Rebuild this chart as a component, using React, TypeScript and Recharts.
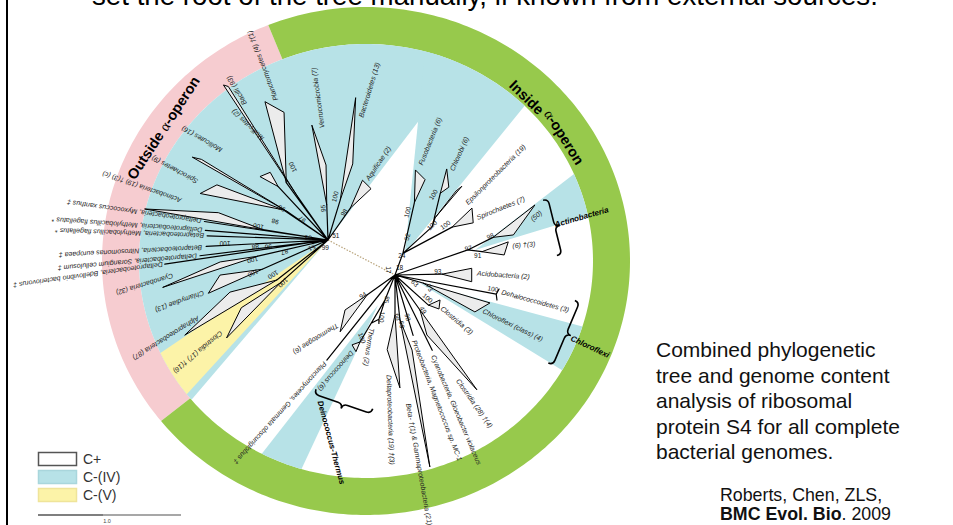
import { ScatterChart, Scatter, XAxis, YAxis } from "recharts";

const W = 953;
const H = 525;
// ring centre in page pixels; the axes are laid out so one data unit is one pixel
const CX = 366;
const CY = 261;
const FONT = '"Liberation Sans", Arial, sans-serif';

type Pol = [number, number]; // direction (deg, counter-clockwise from east), distance
type HubKey = "L" | "R";
type XY = { x: number; y: number };

interface Clade {
  name: string;
  node: Pol;
  tips?: [Pol, Pol];
  from?: Pol;
  cherry?: boolean;
  label: Pol;
  rot: number;
}

const COLORS = {
  iv: "#b7e2e7",
  v: "#fcf3a8",
  outside: "#f6ccd0",
  inside: "#97c94c",
  clade: "#ececec",
  root: "#b9a47c",
};

// the two ends of the root branch, relative to the ring centre
const hubs: Record<HubKey, [number, number]> = { L: [-38, 21], R: [29, -14] };

// outer and inner ellipse radii of the operon ring
const RING = { outer: [264, 254] as [number, number], inner: [227, 217] as [number, number] };

const ringSegments = [
  { name: "Outside", from: 112.5, to: 218, fill: COLORS.outside },
  { name: "Inside", from: 218, to: 472.5, fill: COLORS.inside },
];

// ring captions: word, direction on the ring, inward shift, whether the alpha-operon part follows
const ringCaptions: { text: string; at: number; shift: number; alpha: boolean }[] = [
  { text: "Outside ", at: 146.7, shift: 0, alpha: true },
  { text: "Inside", at: 45.5, shift: 11, alpha: false },
  { text: "", at: 32, shift: 9, alpha: true },
];

const wedges: { hub: HubKey; apex: Pol; from: number; to: number; kind: "iv" | "v" }[] = [
  { hub: "L", apex: [0, 0], from: 52.7, to: 229.5, kind: "iv" },
  { hub: "L", apex: [0, 0], from: 214, to: 227.5, kind: "v" },
  { hub: "R", apex: [65.6, 24], from: 50.9, to: 84.3, kind: "iv" },
  { hub: "R", apex: [17.4, 84], from: 17, to: 37.5, kind: "iv" },
  { hub: "R", apex: [-17.7, 26], from: -31.5, to: -15, kind: "iv" },
  { hub: "R", apex: [-119.5, 34.5], from: 232, to: 245, kind: "iv" },
];

const leftClades: Clade[] = [
  { name: "Aquificae (2)", node: [55, 39], tips: [[60, 69], [50, 67]], label: [57, 72], rot: 56 },
  { name: "Bacteroidetes (13)", node: [73, 42], tips: [[79, 145], [72, 80]], label: [75, 127], rot: 73 },
  { name: "Verrucomicrobia (7)", node: [92, 35], tips: [[98, 116], [91.5, 75]], label: [93, 112], rot: 98 },
  { name: "Planctomycetes (4) †(1)", node: [126, 71], tips: [[114.5, 152], [109, 135]], label: [110.5, 149], rot: 111 },
  { name: "Bacilli (93)", node: [125, 52], tips: [[124, 187], [123, 183]], label: [121.5, 159], rot: 121 },
  { name: "Mollicutes (2)", node: [133, 73], tips: [[137, 93], [130.5, 89]], label: [123, 120], rot: 136 },
  { name: "Mollicutes (16)", node: [145, 49], tips: [[148.6, 159], [147.5, 150]], label: [140, 139], rot: 150 },
  { name: "Spirochaetes (9)", node: [146, 54], tips: [[160, 136], [153.6, 124]], label: [156, 143], rot: 152 },
  { name: "Actinobacteria (19) †(3) (c)", node: [171, 66], tips: [[170.4, 186], [166, 113]], label: [165, 152], rot: 161 },
  { name: "Deltaproteobacteria, Myxococcus xanthus ‡", node: [171.5, 125], label: [171.5, 128], rot: 172 },
  { name: "Deltaproteobacteria, Methylobacillus flagellatus *", node: [175.5, 123], label: [175.5, 126], rot: 176 },
  { name: "Betaproteobacteria, Methylobacillus flagellatus *", node: [178, 121], label: [178, 124], rot: 178 },
  { name: "Betaproteobacteria, Nitrosomonas europaea ‡", node: [183, 122], label: [183.5, 126], rot: 183 },
  { name: "Deltaproteobacteria, Sorangium cellulosum ‡", node: [187, 129], label: [187, 132], rot: 185 },
  { name: "Deltaproteobacteria, Bdellovibrio bacteriovorus ‡", node: [188.4, 165], label: [188.4, 167], rot: 188 },
  { name: "Cyanobacteria (32)", node: [193, 72], tips: [[196, 172], [191.5, 110]], label: [193, 159], rot: 197 },
  { name: "Chlamydiae (13)", node: [204, 72], tips: [[204, 131], [198, 113.5]], label: [203, 135], rot: 200 },
  { name: "Alphaproteobacteria (87)", node: [218, 65], tips: [[213.6, 172], [208, 111]], label: [211, 151], rot: 212 },
  { name: "Clostridia (17) †(16)", node: [222, 64], tips: [[224, 141], [218, 110]], label: [221, 141], rot: 220 },
];

// internal nodes hanging off the right-hand hub
const N24: Pol = [70, 23];
const N105: Pol = [52.4, 61];
const N97: Pol = [19, 77];
const N85: Pol = [-111.8, 27];

const internalEdges: { hub: HubKey; from: Pol; to: Pol }[] = [
  { hub: "R", from: [0, 0], to: N24 },
  { hub: "R", from: N24, to: N105 },
  { hub: "R", from: [0, 0], to: N97 },
  { hub: "R", from: [0, 0], to: N85 },
];

const rightClades: Clade[] = [
  { name: "Fusobacteria (6)", from: N24, node: [75, 75], tips: [[79, 107], [72.5, 100]], label: [77, 113], rot: 68 },
  { name: "Chlorobi (6)", from: N105, node: [61, 93.5], tips: [[64, 118], [58.5, 103]], label: [61.5, 119], rot: 66 },
  { name: "Epsilonproteobacteria (19)", from: N105, node: [55, 70], tips: [[53, 111], [54, 104]], label: [45, 101], rot: 45 },
  { name: "Spirochaetes (7)", from: N24, node: [40, 74.5], tips: [[41, 102], [33.7, 94]], label: [35, 100], rot: 22 },
  { name: "(50)", from: N97, node: [21, 105], tips: [[26.6, 156.5], [18.7, 125]], label: [22, 147], rot: 40 },
  { name: "(6) †(3)", from: N97, node: [15, 90], tips: [[16.3, 118], [10.4, 111]], label: [14, 121], rot: 5 },
  { name: "Acidobacteria (2)", node: [1, 47], tips: [[5, 77], [-5, 77]], label: [1.4, 82], rot: -4 },
  { name: "Dehalococcoidetes (3)", node: [-10.7, 103], tips: [[-7.7, 105], [-13.8, 105]], cherry: true, label: [-9, 108], rot: -15 },
  { name: "Chloroflexi (class) (4)", node: [-16, 29], tips: [[-16.4, 99], [-24.8, 88]], label: [-22, 95], rot: -26 },
  { name: "Clostridia (3)", node: [-42, 45], tips: [[-29, 51.5], [-37.7, 55.6]], label: [-35, 57], rot: -40 },
  { name: "Clostridia (28) †(4)", node: [-54.5, 43], tips: [[-54.5, 141], [-62, 68]], label: [-59, 122], rot: -55 },
  { name: "Cyanobacteria, Gloeobacter violaceus", node: [-63.7, 84], label: [-64.6, 89], rot: -67 },
  { name: "Proteobacteria, Magnetococcus sp. MC-1", node: [-73.3, 63], label: [-73.7, 68], rot: -69 },
  { name: "Beta- †(1) & Gammaproteobacteria (21)", node: [-83.7, 45], tips: [[-79.7, 195], [-77.2, 77]], label: [-84, 129], rot: -80 },
  { name: "Deltaproteobacteria (19) †(3)", node: [-90, 40], tips: [[-87.5, 113], [-96, 75]], label: [-93.4, 100], rot: -88 },
  { name: "Thermus (2)", from: N85, node: [-110, 47], tips: [[-115.6, 53], [-108.4, 51]], cherry: true, label: [-113.5, 58], rot: -99 },
  { name: "Deinococcus (6)", from: N85, node: [-117.6, 75.6], tips: [[-121.6, 82], [-117, 86]], label: [-119, 88], rot: 229 },
  { name: "Thermotogae (6)", node: [-144.5, 34], tips: [[-134, 79], [-145, 61]], label: [-138.7, 76], rot: 212 },
  { name: "Planctomycetes, Gemmata obscuriglobus ‡", node: [-128.7, 109], label: [-128.4, 112], rot: 228 },
];

// bootstrap support: [value, direction, distance, text angle]
const leftSupport: [string, number, number, number][] = [
  ["98", 60, 32, 56], ["100", 81, 44, 75], ["95", 99, 32, 95], ["100", 116, 81, 115],
  ["97", 142, 33, 140], ["96", 146, 56, 150], ["98", 161, 56, 165], ["100", 169, 71, 168],
  ["53", 174, 20, 175], ["100", 181.7, 103, 180], ["88", 185.5, 73, 184], ["96", 186.7, 60, 185],
  ["87", 195.6, 45, 195], ["51", 206.6, 18, 205], ["100", 195, 78, 193], ["100", 204, 82, 203],
  ["100", 212.5, 65, 212], ["100", 223.7, 62, 222], ["51", 30, 9, 0], ["99", 250, 8, 0],
];

const rightSupport: [string, number, number, number][] = [
  ["18", 60, 9, 0], ["17", 140, 8, -90], ["24", 71, 21, 0], ["52", 72.5, 40, 75], ["100", 79, 64, 75],
  ["100", 64.6, 89, 60], ["100", 53.5, 62, 45], ["100", 45, 71, 35], ["97", 20.3, 78, 12],
  ["98", 22.3, 103, 25], ["91", 13.5, 85, 0], ["93", 5, 43, 0], ["100", -8, 99, -10],
  ["73", -20, 37, -60], ["63", -22, 21.5, -45], ["100", -35, 40, -40], ["49", -51, 45, -60],
  ["98", -73, 44, -75], ["69", -82, 50, -80], ["68", -86, 42, -82], ["100", -107, 44, -95],
  ["85", -108, 26, -100], ["100", -117.6, 71, -70], ["94", -148, 38, 35],
];

const groupLabels: { text: string; hub: HubKey; at: Pol; rot: number }[] = [
  { text: "Actinobacteria", hub: "R", at: [17.4, 167.6], rot: 16 },
  { text: "Chloroflexi", hub: "R", at: [-19.7, 187], rot: -25 },
  { text: "Deinococcus-Thermus", hub: "R", at: [-120.8, 146.6], rot: -75 },
];

const braces: { hub: HubKey; at: Pol; len: number; rot: number }[] = [
  { hub: "R", at: [16.9, 162], len: 57, rot: 14 },
  { hub: "R", at: [-18.8, 176], len: 68, rot: -23 },
  { hub: "R", at: [-112.2, 134], len: 60, rot: -109 },
];

const legendItems = [
  { label: "C+", fill: "#ffffff", stroke: "#555555" },
  { label: "C-(IV)", fill: COLORS.iv, stroke: "#a9d6dc" },
  { label: "C-(V)", fill: COLORS.v, stroke: "#efe49a" },
];

const summaryLines = [
  "Combined phylogenetic",
  "tree and genome content",
  "analysis of ribosomal",
  "protein S4 for all complete",
  "bacterial genomes.",
];

// ---- geometry helpers ----
const rad = (d: number) => (d * Math.PI) / 180;

const at = (hub: HubKey, p: Pol): XY => {
  const [hx, hy] = hubs[hub];
  return { x: hx + p[1] * Math.cos(rad(p[0])), y: hy + p[1] * Math.sin(rad(p[0])) };
};

const onEllipse = (deg: number, [rx, ry]: [number, number]): XY => {
  const c = Math.cos(rad(deg));
  const s = Math.sin(rad(deg));
  const r = 1 / Math.sqrt((c * c) / (rx * rx) + (s * s) / (ry * ry));
  return { x: r * c, y: r * s };
};

// where a ray from p leaves the ellipse
const rayHit = (p: XY, deg: number, [rx, ry]: [number, number]): XY => {
  const dx = Math.cos(rad(deg));
  const dy = Math.sin(rad(deg));
  const a = (dx * dx) / (rx * rx) + (dy * dy) / (ry * ry);
  const b = 2 * ((p.x * dx) / (rx * rx) + (p.y * dy) / (ry * ry));
  const c = (p.x * p.x) / (rx * rx) + (p.y * p.y) / (ry * ry) - 1;
  const t = (-b + Math.sqrt(b * b - 4 * a * c)) / (2 * a);
  return { x: p.x + t * dx, y: p.y + t * dy };
};

const sweep = (from: number, to: number, step = 1) => {
  const n = Math.max(1, Math.ceil(Math.abs(to - from) / step));
  return Array.from({ length: n + 1 }, (_, i) => from + ((to - from) * i) / n);
};

const ringPolys = ringSegments.map((s) => [
  ...sweep(s.from, s.to).map((a) => onEllipse(a, RING.outer)),
  ...sweep(s.to, s.from).map((a) => onEllipse(a, RING.inner)),
]);

const wedgePolys = wedges.map((w) => {
  const apex = at(w.hub, w.apex);
  return [apex, ...sweep(w.from, w.to).map((a) => rayHit(apex, a, RING.inner))];
});

const midRing = (shift: number): [number, number] => [
  (RING.outer[0] + RING.inner[0]) / 2 - shift,
  (RING.outer[1] + RING.inner[1]) / 2 - shift,
];
// captions run clockwise along the ring, so they are turned to the tangent
const captionPoints = ringCaptions.map((c) => ({
  ...onEllipse(c.at, midRing(c.shift)),
  text: c.text,
  alpha: c.alpha,
  rot: c.at - 90,
}));

const edgePoints: XY[] = [];
const trianglePoints: XY[] = [];
type TextDatum = XY & { text: string; rot: number; kind: "tip" | "support" | "group" };
const textPoints: TextDatum[] = [];

internalEdges.forEach((e) => edgePoints.push(at(e.hub, e.from), at(e.hub, e.to)));

([["L", leftClades], ["R", rightClades]] as [HubKey, Clade[]][]).forEach(([hub, list]) => {
  list.forEach((c) => {
    const node = at(hub, c.node);
    edgePoints.push(at(hub, c.from ?? [0, 0]), node);
    if (c.tips) {
      const [a, b] = c.tips.map((t) => at(hub, t));
      if (c.cherry) edgePoints.push(node, a, node, b);
      else trianglePoints.push(node, a, b);
    }
    textPoints.push({ ...at(hub, c.label), text: c.name, rot: c.rot, kind: "tip" });
  });
});

([["L", leftSupport], ["R", rightSupport]] as [HubKey, [string, number, number, number][]][]).forEach(
  ([hub, list]) =>
    list.forEach(([text, a, r, rot]) =>
      textPoints.push({ ...at(hub, [a, r]), text, rot, kind: "support" })
    )
);

groupLabels.forEach((g) => textPoints.push({ ...at(g.hub, g.at), text: g.text, rot: g.rot, kind: "group" }));

const bracePoints = braces.map((b) => ({ ...at(b.hub, b.at), len: b.len, rot: b.rot }));
const rootPoints = [at("L", [0, 0]), at("R", [0, 0])];

// ---- renderers ----
const groupPath = (pts: XY[], size: number, close: boolean) => {
  let d = "";
  for (let i = 0; i + size - 1 < pts.length; i += size) {
    d += `M${pts[i].x},${pts[i].y}`;
    for (let j = 1; j < size; j++) d += `L${pts[i + j].x},${pts[i + j].y}`;
    if (close) d += "Z";
  }
  return d;
};

const Blank = () => <g />;

const polygon = (fill: string) => (p: any) => (
  <path d={groupPath(p.points, p.points.length, true)} fill={fill} stroke="none" />
);

const CaptionMark = (p: any) => {
  const { cx, cy, payload } = p;
  return (
    <text
      x={cx}
      y={cy}
      transform={`rotate(${-payload.rot} ${cx} ${cy})`}
      fontFamily={FONT}
      fontWeight="bold"
      fontSize={14.5}
      fill="#000"
      textAnchor="middle"
      dominantBaseline="central"
    >
      {payload.text}
      {payload.alpha && (
        <>
          <tspan fontFamily='"Liberation Serif", serif' fontWeight="normal">α</tspan>-operon
        </>
      )}
    </text>
  );
};

const TEXT_STYLE = {
  tip: { size: 7, italic: true, bold: false, anchor: "start", color: "#222" },
  support: { size: 6.5, italic: false, bold: false, anchor: "middle", color: "#111" },
  group: { size: 8, italic: true, bold: true, anchor: "start", color: "#000" },
} as const;

const TextMark = (p: any) => {
  const { cx, cy, payload } = p;
  const st = TEXT_STYLE[payload.kind as keyof typeof TEXT_STYLE];
  return (
    <text
      x={cx}
      y={cy}
      transform={`rotate(${-payload.rot} ${cx} ${cy})`}
      fontFamily={FONT}
      fontSize={st.size}
      fontStyle={st.italic ? "italic" : "normal"}
      fontWeight={st.bold ? "bold" : "normal"}
      fill={st.color}
      textAnchor={st.anchor}
      dominantBaseline="central"
    >
      {payload.text}
    </text>
  );
};

const BraceMark = (p: any) => {
  const { cx, cy, payload } = p;
  const h = payload.len / 2;
  const q = 5;
  const d = `M0,${-h} Q${q},${-h} ${q},${-h + q} L${q},${-q} Q${q},0 ${2 * q},0 Q${q},0 ${q},${q} L${q},${h - q} Q${q},${h} 0,${h}`;
  return (
    <path
      d={d}
      transform={`translate(${cx} ${cy}) rotate(${-payload.rot})`}
      fill="none"
      stroke="#000"
      strokeWidth={1.6}
    />
  );
};

export default function App() {
  return (
    <div style={{ position: "absolute", left: 0, top: 0, width: W, height: H, background: "#fff", overflow: "hidden" }}>
      <ScatterChart width={W} height={H} margin={{ top: 0, right: 0, bottom: 0, left: 0 }}>
        <XAxis type="number" dataKey="x" domain={[-CX, W - CX]} hide allowDataOverflow />
        <YAxis type="number" dataKey="y" domain={[CY - H, CY]} hide allowDataOverflow />

        {ringPolys.map((pts, i) => (
          <Scatter key={`ring${i}`} data={pts} shape={Blank} line={polygon(ringSegments[i].fill)} isAnimationActive={false} legendType="none" />
        ))}
        {wedgePolys.map((pts, i) => (
          <Scatter key={`wedge${i}`} data={pts} shape={Blank} line={polygon(COLORS[wedges[i].kind])} isAnimationActive={false} legendType="none" />
        ))}
        <Scatter data={captionPoints} shape={CaptionMark} isAnimationActive={false} legendType="none" />

        <Scatter
          data={rootPoints}
          shape={Blank}
          line={(p: any) => (
            <path d={groupPath(p.points, 2, false)} stroke={COLORS.root} strokeWidth={1.2} strokeDasharray="1.5 1.5" fill="none" />
          )}
          isAnimationActive={false}
          legendType="none"
        />
        <Scatter
          data={edgePoints}
          shape={Blank}
          line={(p: any) => (
            <path d={groupPath(p.points, 2, false)} stroke="#000" strokeWidth={1.2} fill="none" strokeLinecap="round" />
          )}
          isAnimationActive={false}
          legendType="none"
        />
        <Scatter
          data={trianglePoints}
          shape={Blank}
          line={(p: any) => (
            <path d={groupPath(p.points, 3, true)} stroke="#000" strokeWidth={1} fill={COLORS.clade} strokeLinejoin="round" />
          )}
          isAnimationActive={false}
          legendType="none"
        />
        <Scatter data={bracePoints} shape={BraceMark} isAnimationActive={false} legendType="none" />
        <Scatter data={textPoints} shape={TextMark} isAnimationActive={false} legendType="none" />
      </ScatterChart>

      <svg width={W} height={H} style={{ position: "absolute", left: 0, top: 0, pointerEvents: "none" }}>
        <rect x={6} y={0} width={2} height={H} fill="#000" />
        <text x={92} y={5} fontFamily={FONT} fontSize={27.7} fill="#000">
          set the root of the tree manually, if known from external sources.
        </text>

        {summaryLines.map((line, i) => (
          <text key={line} x={656} y={357 + i * 25.6} fontFamily={FONT} fontSize={21} fill="#111">
            {line}
          </text>
        ))}
        <text x={720} y={501} fontFamily={FONT} fontSize={17.8} fill="#111">
          Roberts, Chen, ZLS,
        </text>
        <text x={720} y={520} fontFamily={FONT} fontSize={17.8} fill="#111">
          <tspan fontWeight="bold">BMC Evol. Bio</tspan>. 2009
        </text>

        {legendItems.map((item, i) => (
          <g key={item.label}>
            <rect x={38.5} y={452.5 + i * 18} width={38} height={13} fill={item.fill} stroke={item.stroke} strokeWidth={1.5} />
            <text x={83} y={464 + i * 18} fontFamily={FONT} fontSize={14} fill="#333">
              {item.label}
            </text>
          </g>
        ))}
        <line x1={38} y1={515} x2={103} y2={515} stroke="#555" strokeWidth={1.6} />
        <line x1={103} y1={515} x2={181} y2={515} stroke="#8a8a8a" strokeWidth={1.6} />
        <text x={107} y={523} fontFamily={FONT} fontSize={5.5} fill="#444" textAnchor="middle">
          1.0
        </text>
      </svg>
    </div>
  );
}
